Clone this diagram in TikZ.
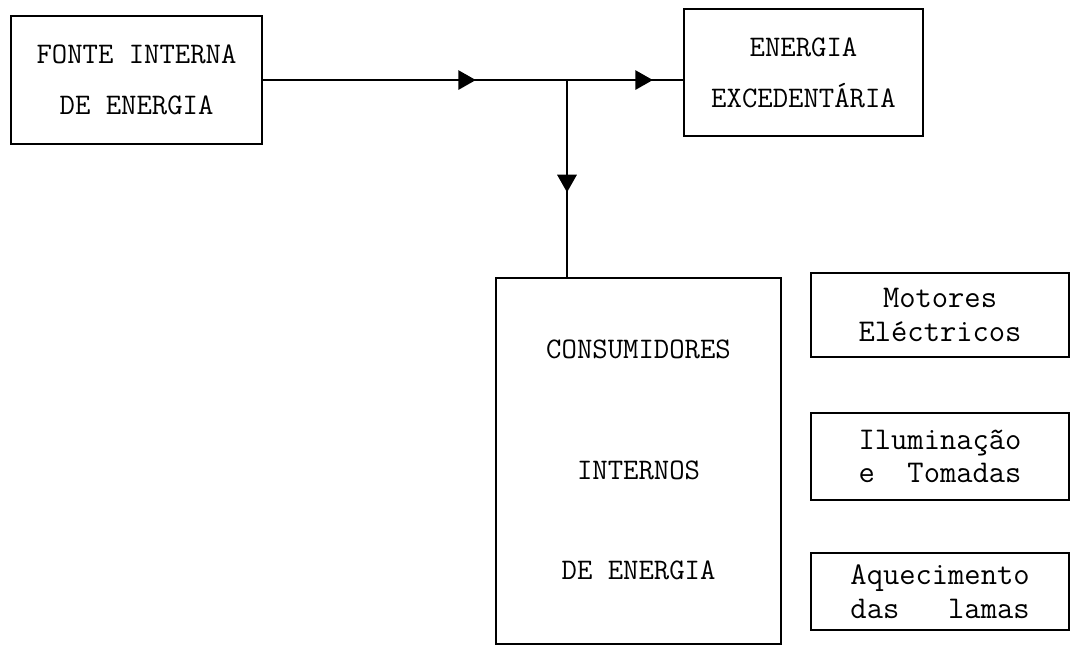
\documentclass[tikz,border=0pt]{standalone}
\usetikzlibrary{arrows.meta, positioning, decorations.markings}

\begin{document}
\begin{tikzpicture}[
    x=0.02cm, y=-0.02cm,
    box/.style={
        rectangle,
        draw,
        line width=1.2pt,
        anchor=north west,
        align=center,
        inner sep=0pt,
        font=\ttfamily\fontsize{17}{29}\selectfont
    },
    smallbox/.style={
        box,
        minimum width=5.16cm,
        font=\ttfamily\fontsize{18}{19}\selectfont
    },
    flow/.style={
        line width=1.2pt,
        postaction={decorate},
        decoration={markings,
            mark=at position #1 with {\arrow{Triangle[length=10pt, width=11pt]}}}
    }
]
\useasboundingbox (0,0) rectangle (1071,646);

% Source and surplus
\node[box, minimum width=5.02cm, minimum height=2.56cm] (fonte) at (10,15)
    {FONTE INTERNA\\DE ENERGIA};
\node[box, minimum width=4.78cm, minimum height=2.54cm] (excedente) at (683,8)
    {ENERGIA\\EXCEDENTÁRIA};

% Internal consumers
\node[box, minimum width=5.7cm, minimum height=7.32cm] (consumo) at (495,277)
    {\mbox{}\\[-20pt]CONSUMIDORES\\[40pt]INTERNOS\\[28pt]DE ENERGIA};

% Consumer types
\node[smallbox, minimum height=1.68cm] (motores) at (810,272) {Motores\\Eléctricos};
\node[smallbox, minimum height=1.74cm] (iluminacao) at (810,412) {Iluminação\\e~~Tomadas};
\node[smallbox, minimum height=1.54cm] (aquecimento) at (810,552) {Aquecimento\\das~~~lamas};

% Flows
\coordinate (juncao) at (567,0 |- fonte.east);
\draw[flow=0.7] (fonte.east) -- (juncao);
\draw[flow=0.74] (juncao) -- (juncao -| excedente.west);
\draw[flow=0.57] (juncao) -- (juncao |- consumo.north);

\end{tikzpicture}
\end{document}
